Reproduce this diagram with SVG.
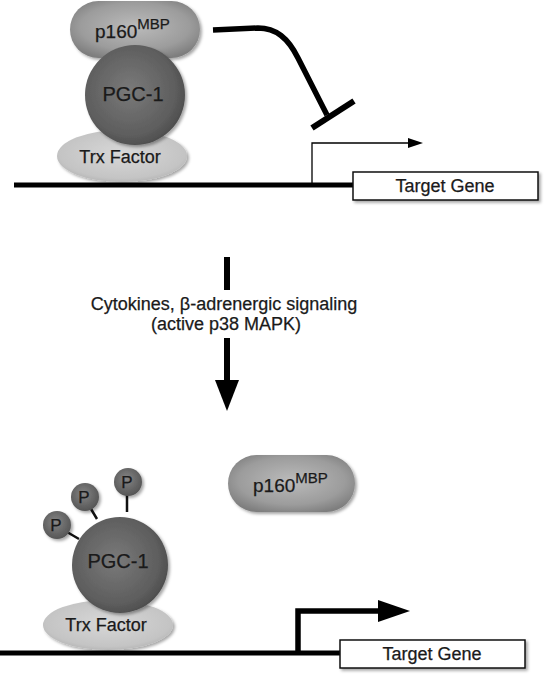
<svg xmlns="http://www.w3.org/2000/svg" width="547" height="678" viewBox="0 0 547 678">
<defs>
<radialGradient id="gP160" cx="0.5" cy="0.45" r="0.6">
<stop offset="0" stop-color="#bbbbbb"/>
<stop offset="0.7" stop-color="#9c9c9c"/>
<stop offset="1" stop-color="#7e7e7e"/>
</radialGradient>
<radialGradient id="gPGC" cx="0.45" cy="0.45" r="0.6">
<stop offset="0" stop-color="#7a7a7a"/>
<stop offset="0.75" stop-color="#5e5e5e"/>
<stop offset="1" stop-color="#4a4a4a"/>
</radialGradient>
<radialGradient id="gTrx" cx="0.5" cy="0.45" r="0.6">
<stop offset="0" stop-color="#d8d8d8"/>
<stop offset="0.8" stop-color="#c4c4c4"/>
<stop offset="1" stop-color="#b0b0b0"/>
</radialGradient>
<radialGradient id="gP" cx="0.45" cy="0.4" r="0.6">
<stop offset="0" stop-color="#858585"/>
<stop offset="1" stop-color="#555555"/>
</radialGradient>
<filter id="sh" x="-20%" y="-20%" width="140%" height="140%">
<feDropShadow dx="2" dy="2" stdDeviation="1.5" flood-color="#000" flood-opacity="0.35"/>
</filter>
<marker id="thinHead" viewBox="0 0 15 10" refX="0" refY="5" markerWidth="15" markerHeight="10" markerUnits="userSpaceOnUse" orient="auto">
<path d="M0,0 L15,5 L0,10 Z" fill="#000"/>
</marker>
</defs>
<style>
text { font-family: "Liberation Sans", Arial, Helvetica, sans-serif; fill: #1a1a1a; stroke: #1a1a1a; stroke-width: 0.25; }
.lbl { font-size: 20px; text-anchor: middle; }
.med { font-size: 18px; text-anchor: middle; }
.p160 { font-size: 19px; }
.sup { font-size: 15px; }
.pl { font-size: 17px; text-anchor: middle; }
.dna { stroke: #000; stroke-width: 5; fill: none; }
.gene { fill: #fff; stroke: #111; stroke-width: 1.5; }
.mid { font-size: 18px; text-anchor: middle; }
</style>

<g id="connectors">
<path class="dna" d="M14,185 L354,185"/>
<path class="dna" d="M0,653 L341,653"/>
<path d="M213,30 L258,28 C276,28 288,38 298,58 L327,115" fill="none" stroke="#000" stroke-width="5.5" stroke-linejoin="round"/>
<path d="M312,128 L354,101" stroke="#000" stroke-width="6" fill="none"/>
<path d="M312,185 L312,143 L408,143" fill="none" stroke="#000" stroke-width="1.3" marker-end="url(#thinHead)"/>
<path d="M227,257 L227,290" stroke="#000" stroke-width="6"/>
<path d="M227,338 L227,382" stroke="#000" stroke-width="6"/>
<path d="M215,380 L239,380 L227,411 Z" fill="#000"/>
<path d="M298,653 L298,611 L380,611" fill="none" stroke="#000" stroke-width="5.5" stroke-linejoin="miter"/>
<path d="M378,600 L410,611 L378,622 Z" fill="#000"/>
</g>

<g id="top-trx">
<ellipse cx="122" cy="156" rx="65" ry="26" fill="url(#gTrx)" filter="url(#sh)"/>
<text class="med" x="120" y="163">Trx Factor</text>
</g>
<g id="top-p160">
<rect x="70" y="1" width="130" height="57" rx="28.5" fill="url(#gP160)" filter="url(#sh)"/>
<text class="p160" x="95" y="38">p160<tspan class="sup" dy="-9">MBP</tspan></text>
</g>
<g id="top-pgc1">
<circle cx="135" cy="95" r="50" fill="url(#gPGC)" filter="url(#sh)"/>
<text class="lbl" x="133" y="101">PGC-1</text>
</g>
<g id="top-gene">
<rect class="gene" x="353" y="172" width="185" height="28" filter="url(#sh)"/>
<text class="med" x="445" y="192">Target Gene</text>
</g>

<g id="signal-label">
<text class="mid" x="224" y="310">Cytokines, β-adrenergic signaling</text>
<text class="mid" x="226" y="330">(active p38 MAPK)</text>
</g>

<g id="bottom-p160">
<rect x="228" y="455" width="127" height="57" rx="28.5" fill="url(#gP160)" filter="url(#sh)"/>
<text class="p160" x="253" y="492">p160<tspan class="sup" dy="-9">MBP</tspan></text>
</g>

<g id="bottom-trx">
<ellipse cx="108" cy="625" rx="65" ry="25" fill="url(#gTrx)" filter="url(#sh)"/>
<text class="med" x="106" y="631">Trx Factor</text>
</g>
<g id="phospho">
<path d="M67,532 L79,539 M91,509 L97,519 M127,495 L127,512" stroke="#111" stroke-width="2.5"/>
<g id="p1"><circle cx="57" cy="525" r="14" fill="url(#gP)" filter="url(#sh)"/><text class="pl" x="56" y="531">P</text></g>
<g id="p2"><circle cx="85" cy="497" r="14" fill="url(#gP)" filter="url(#sh)"/><text class="pl" x="84" y="503">P</text></g>
<g id="p3"><circle cx="128" cy="482" r="14" fill="url(#gP)" filter="url(#sh)"/><text class="pl" x="127" y="488">P</text></g>
</g>
<g id="bottom-pgc1">
<circle cx="120" cy="565" r="48" fill="url(#gPGC)" filter="url(#sh)"/>
<text class="lbl" x="118" y="568">PGC-1</text>
</g>
<g id="bottom-gene">
<rect class="gene" x="340" y="640" width="185" height="28" filter="url(#sh)"/>
<text class="med" x="432" y="660">Target Gene</text>
</g>
</svg>
